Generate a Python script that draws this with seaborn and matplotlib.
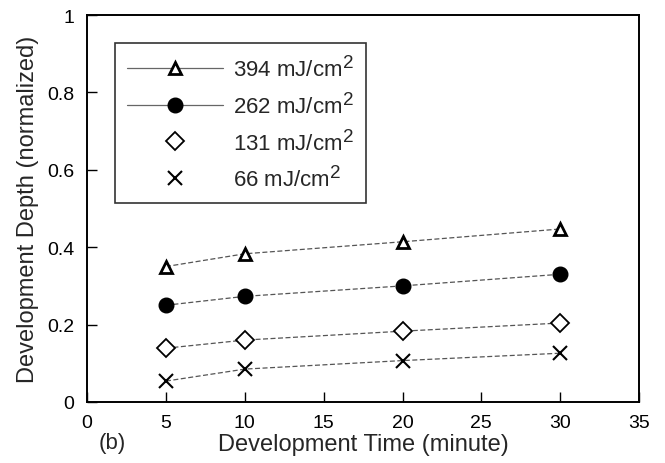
import matplotlib
matplotlib.use("Agg")
import matplotlib.pyplot as plt
import matplotlib._mathtext as _mt
import seaborn as sns
import pandas as pd
from matplotlib.lines import Line2D

times = [5, 10, 20, 30]
labels = ["394 mJ/cm$^2$", "262 mJ/cm$^2$", "131 mJ/cm$^2$", "66 mJ/cm$^2$"]
d394 = [0.350, 0.383, 0.414, 0.447]
d262 = [0.250, 0.273, 0.300, 0.330]
d131 = [0.139, 0.160, 0.183, 0.204]
d66 = [0.054, 0.085, 0.107, 0.126]
series = [d394, d262, d131, d66]
xticks = [0, 5, 10, 15, 20, 25, 30, 35]
yticks = [0, 0.2, 0.4, 0.6, 0.8, 1]

# larger superscripts, as in the reference
_mt.SHRINK_FACTOR = 0.85

sns.set_style("ticks")
plt.rcParams['font.family'] = ['Liberation Sans', 'DejaVu Sans']
plt.rcParams['mathtext.fontset'] = 'custom'
plt.rcParams['mathtext.rm'] = 'Liberation Sans'
plt.rcParams['mathtext.it'] = 'Liberation Sans'

fig = plt.figure(figsize=(6.65, 4.64), dpi=100)
ax = fig.add_axes([0.131, 0.1315, 0.830, 0.834])

styles = [
    dict(marker="^", markersize=9, markerfacecolor="white", markeredgecolor="black", markeredgewidth=2.0),
    dict(marker="o", markersize=10.5, markerfacecolor="black", markeredgecolor="black", markeredgewidth=1),
    dict(marker="D", markersize=9, markerfacecolor="white", markeredgecolor="black", markeredgewidth=1.3),
    dict(marker="x", markersize=10, markerfacecolor="black", markeredgecolor="black", markeredgewidth=1.5),
]

for lab, vals, st in zip(labels, series, styles):
    df = pd.DataFrame({"t": times, "d": vals})
    sns.lineplot(data=df, x="t", y="d", ax=ax, color="#555555", linewidth=0.9,
                 linestyle=(0, (4, 2)), legend=False, **st)

ax.set_xlim(0, 35)
ax.set_ylim(0, 1)
ax.set_xticks(xticks)
ax.set_yticks(yticks)
ax.set_yticklabels(["0", "0.2", "0.4", "0.6", "0.8", "1"])
ax.tick_params(direction="in", length=7, width=1, labelsize=14, colors="black", pad=9)
for s in ax.spines.values():
    s.set_linewidth(1.4)
    s.set_color("black")
ax.set_xlabel("Development Time (minute)", fontsize=17, labelpad=1)
ax.set_ylabel("Development Depth (normalized)", fontsize=17, labelpad=6)

handles = []
for i, st in enumerate(styles):
    ls = "-" if i < 2 else "none"
    handles.append(Line2D([0], [0], color="#666666", linewidth=0.9, linestyle=ls, **st))
leg = ax.legend(handles, labels, loc="upper left", bbox_to_anchor=(0.0507, 0.928),
                fontsize=16, frameon=True, fancybox=False, edgecolor="black",
                handlelength=4.3, borderpad=0.55, labelspacing=0.5, handletextpad=0.45,
                borderaxespad=0)
leg.get_frame().set_linewidth(1.2)

fig.text(0.148, 0.033, "(b)", fontsize=16)

fig.savefig("out.png", dpi=100)
